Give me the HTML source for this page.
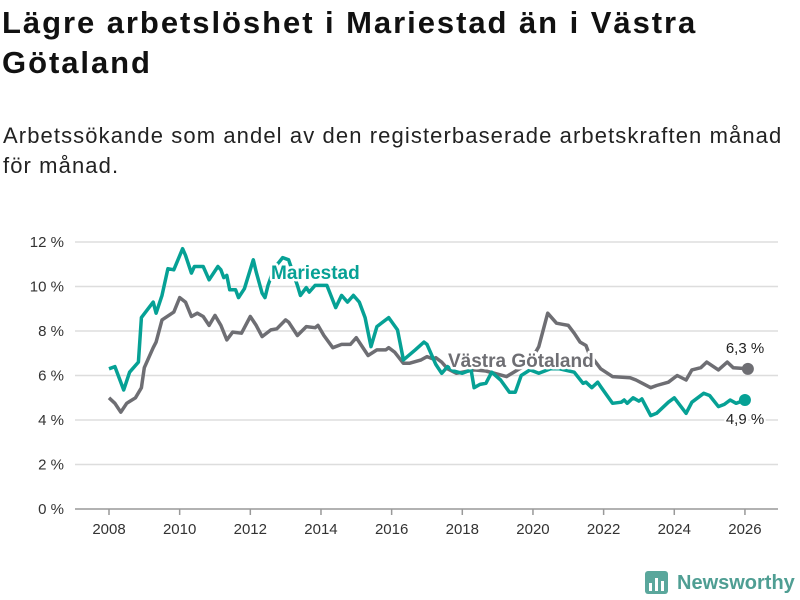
<!DOCTYPE html>
<html><head><meta charset="utf-8"><style>
body{margin:0;width:800px;height:600px;background:#fff;font-family:"Liberation Sans","DejaVu Sans",sans-serif;overflow:hidden;position:relative}
h1{position:absolute;left:2px;top:3px;margin:0;font-size:31px;letter-spacing:1.95px;line-height:40px;font-weight:bold;color:#111;width:760px}
.sub{position:absolute;left:3px;top:121px;font-size:22px;letter-spacing:1.1px;line-height:30px;color:#222;width:790px}
svg{position:absolute;left:0;top:0}
</style></head><body>
<h1>Lägre arbetslöshet i Mariestad än i Västra Götaland</h1>
<div class="sub">Arbetssökande som andel av den registerbaserade arbetskraften månad för månad.</div>
<svg width="800" height="600" id="chart"></svg>
<script>
const yTicks=[0,2,4,6,8,10,12];
const xTicks=[2008,2010,2012,2014,2016,2018,2020,2022,2024,2026];
const marMonths=[0,2,5,7,10,11,15,16,18,20,22,25,26,28,29,32,34,37,38,39,40,41,43,44,46,49,50,52,53,54,56,59,61,64,65,67,68,70,74,77,79,81,83,85,87,89,91,95,98,100,104,107,108,111,113,115,117,120,123,124,126,128,130,133,136,138,140,143,146,150,153,158,161,162,164,166,167,171,174,175,176,178,180,181,184,186,190,192,196,198,202,204,207,209,211,213,216];
const marValues=[6.3,6.4,5.35,6.15,6.6,8.6,9.3,8.8,9.6,10.8,10.75,11.7,11.4,10.6,10.9,10.9,10.3,10.9,10.75,10.4,10.5,9.85,9.85,9.5,9.9,11.2,10.65,9.7,9.5,10.05,10.8,11.3,11.2,10.05,9.6,9.95,9.75,10.05,10.05,9.05,9.6,9.3,9.6,9.3,8.6,7.3,8.2,8.6,8.05,6.7,7.15,7.5,7.4,6.5,6.1,6.4,6.2,6.1,6.25,5.45,5.6,5.65,6.15,5.8,5.25,5.25,6.0,6.25,6.1,6.3,6.3,6.15,5.65,5.7,5.45,5.7,5.5,4.75,4.8,4.9,4.75,5.0,4.85,4.95,4.2,4.3,4.8,5.0,4.3,4.8,5.2,5.1,4.6,4.7,4.9,4.75,4.9];
const vgMonths=[0,2,4,6,9,11,12,15,16,18,22,24,26,28,30,32,34,36,38,40,42,45,48,50,52,55,57,60,61,64,67,70,71,73,76,79,82,84,86,88,91,94,95,97,100,102,106,108,110,111,113,115,118,124,128,135,140,143,146,149,152,154,156,158,160,162,163,167,171,177,179,184,186,190,193,196,198,201,203,207,210,212,217];
const vgValues=[5.0,4.75,4.35,4.75,5.0,5.45,6.35,7.25,7.5,8.5,8.85,9.5,9.3,8.65,8.8,8.65,8.25,8.7,8.25,7.6,7.95,7.9,8.65,8.25,7.75,8.05,8.1,8.5,8.4,7.8,8.2,8.15,8.25,7.8,7.25,7.4,7.4,7.7,7.3,6.9,7.15,7.15,7.25,7.05,6.55,6.55,6.7,6.85,6.75,6.8,6.6,6.3,6.1,6.25,6.2,5.95,6.35,6.6,7.3,8.8,8.35,8.3,8.25,7.9,7.5,7.35,7.0,6.3,5.95,5.9,5.8,5.45,5.55,5.7,6.0,5.8,6.25,6.35,6.6,6.25,6.6,6.35,6.3];
const NS="http://www.w3.org/2000/svg";
const svg=document.getElementById('chart');
const X=m=>109+m/12*35.33;
const Xy=y=>109+(y-2008)*35.33;
const Y=v=>509-v*22.25;
function mk(t,a,p){const e=document.createElementNS(NS,t);for(const k in a)e.setAttribute(k,a[k]);(p||svg).appendChild(e);return e;}
yTicks.forEach(v=>{
  const l=mk('line',{x1:75,x2:778,y1:Y(v),y2:Y(v),stroke:v===0?'#999':'#ddd','stroke-width':1.5});
  
  
  const t=mk('text',{x:64,y:Y(v)+5,'text-anchor':'end','font-size':15,fill:'#333'});
  t.textContent=v+' %';
  
  
});
xTicks.forEach(yr=>{
  const l=mk('line',{x1:Xy(yr),x2:Xy(yr),y1:509,y2:515,stroke:'#999','stroke-width':1.5});
  
  
  const t=mk('text',{x:Xy(yr),y:534,'text-anchor':'middle','font-size':15,fill:'#333'});
  t.textContent=yr;
  
  
});
function line(ms,vs,col,name){
  const n=Math.min(ms.length,vs.length)-1;
  const d=ms.slice(0,n+1).map((m,i)=>(i?'L':'M')+X(m).toFixed(1)+','+Y(vs[i]).toFixed(1)).join('');
  const p=mk('path',{d:d,fill:'none',stroke:col,'stroke-width':3.5,'stroke-linejoin':'round'});
  
  
  const c=mk('circle',{cx:X(ms[n]),cy:Y(vs[n]),r:6,fill:col});
  
  
}
line(vgMonths,vgValues,'#6e6e73','line-vastra-gotaland');
line(marMonths,marValues,'#06a195','line-mariestad');
function lbl(x,y,txt,col,size,bold,name,anchor){
  const t=mk('text',{x:x,y:y,'font-size':size,'font-weight':bold?'bold':'normal',fill:col,stroke:'#fff','stroke-width':bold?5:4,'paint-order':'stroke','stroke-linejoin':'round','text-anchor':anchor||'start'});
  t.textContent=txt;
  
  
}
lbl(271,279,'Mariestad','#06a195',19,true,'label-mariestad');
lbl(448,367,'Västra Götaland','#6e6e73',19,true,'label-vastra-gotaland');
lbl(745,353,'6,3 %','#222',15,false,'end-value-vastra-gotaland','middle');
lbl(745,424,'4,9 %','#222',15,false,'end-value-mariestad','middle');
const g=mk('g',{});


mk('rect',{x:645,y:571,width:23,height:23,rx:3,fill:'#5aa79c'},g);
mk('rect',{x:649,y:583,width:3,height:8,fill:'#fff'},g);
mk('rect',{x:655,y:578,width:3,height:13,fill:'#fff'},g);
mk('rect',{x:661,y:581,width:3,height:10,fill:'#fff'},g);
const lt=mk('text',{x:677,y:589,'font-size':20,'font-weight':'bold',fill:'#4f9e93'},g);
lt.textContent='Newsworthy';
</script>
</body></html>
